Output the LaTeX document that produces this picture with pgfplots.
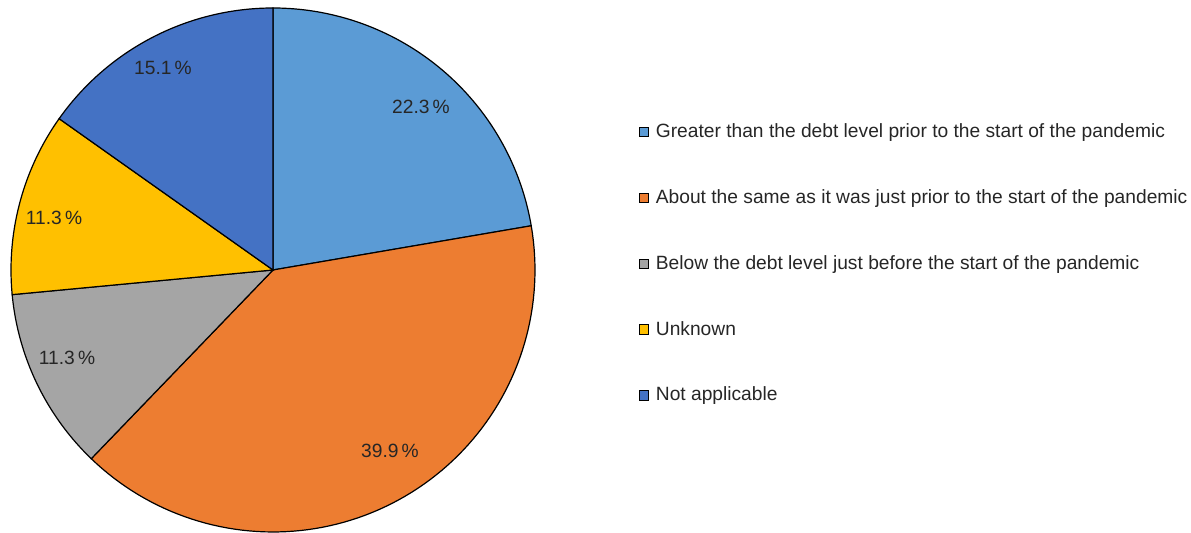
\documentclass[border=0pt]{standalone}
\usepackage{fontspec}
\setmainfont{Liberation Sans}
\usepackage{pgfplots}
\pgfplotsset{compat=1.18}
\definecolor{cA}{HTML}{5B9BD5}
\definecolor{cB}{HTML}{ED7D31}
\definecolor{cC}{HTML}{A5A5A5}
\definecolor{cD}{HTML}{FFC000}
\definecolor{cE}{HTML}{4472C4}
\definecolor{txt}{HTML}{262626}
% shares (percent)
\def\vA{22.3}\def\vB{39.9}\def\vC{11.3}\def\vD{11.3}\def\vE{15.1}
\begin{document}
\begin{tikzpicture}
\pgfmathsetmacro{\aA}{90}
\pgfmathsetmacro{\aB}{\aA-\vA*3.6}
\pgfmathsetmacro{\aC}{\aB-\vB*3.6}
\pgfmathsetmacro{\aD}{\aC-\vC*3.6}
\pgfmathsetmacro{\aE}{\aD-\vD*3.6}
\pgfmathsetmacro{\aF}{-270}
\def\cx{273}\def\cy{263}\def\rr{262}
\begin{axis}[hide axis, scale only axis, width=595.5pt, height=266.5pt,
  xmin=0, xmax=1191, ymin=0, ymax=533, clip=false,
  every axis plot/.append style={draw=black, line width=0.6pt, samples=90},
  legend style={at={(axis cs:633,418)}, anchor=north west, draw=none, fill=none,
    font=\fontsize{9.6}{11}\selectfont, text=txt, row sep=20.5pt,
    cells={anchor=west}},
  legend image code/.code={\draw[#1, line width=0.5pt] (0pt,-2.3pt) rectangle (4.5pt,2.3pt);
    \path[draw=none, fill=none] (6pt,0pt) circle[radius=0pt];},
]
\addplot[fill=cA, domain=\aB:\aA] ({\cx+\rr*cos(x)},{\cy+\rr*sin(x)}) -- (\cx,\cy) -- cycle;
\addlegendentry{Greater than the debt level prior to the start of the pandemic}
\addplot[fill=cB, domain=\aC:\aB] ({\cx+\rr*cos(x)},{\cy+\rr*sin(x)}) -- (\cx,\cy) -- cycle;
\addlegendentry{About the same as it was just prior to the start of the pandemic}
\addplot[fill=cC, domain=\aD:\aC] ({\cx+\rr*cos(x)},{\cy+\rr*sin(x)}) -- (\cx,\cy) -- cycle;
\addlegendentry{Below the debt level just before the start of the pandemic}
\addplot[fill=cD, domain=\aE:\aD] ({\cx+\rr*cos(x)},{\cy+\rr*sin(x)}) -- (\cx,\cy) -- cycle;
\addlegendentry{Unknown}
\addplot[fill=cE, domain=\aF:\aE] ({\cx+\rr*cos(x)},{\cy+\rr*sin(x)}) -- (\cx,\cy) -- cycle;
\addlegendentry{Not applicable}
\begin{scope}[every node/.style={font=\fontsize{9.6}{11}\selectfont, text=txt}]
\node at (axis cs:421,426) {\vA\,\%};
\node at (axis cs:390,82) {\vB\,\%};
\node at (axis cs:67,175) {\vC\,\%};
\node at (axis cs:54,315) {\vD\,\%};
\node at (axis cs:163,465) {\vE\,\%};
\end{scope}
\end{axis}
\pgfresetboundingbox
\path (current axis.south west) rectangle (current axis.north east);
\end{tikzpicture}
\end{document}
